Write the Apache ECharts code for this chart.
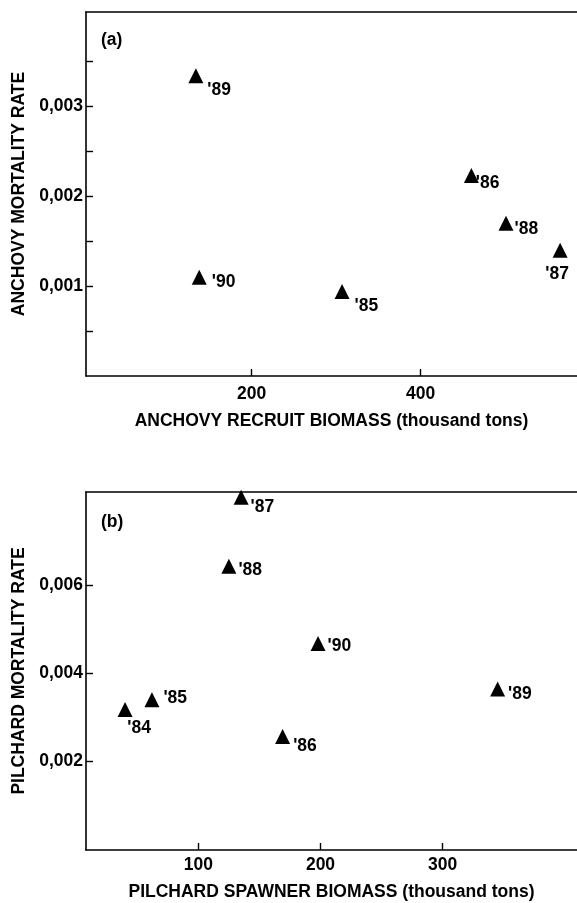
<!DOCTYPE html>
<html>
<head>
<meta charset="utf-8">
<script src="https://cdn.jsdelivr.net/npm/echarts@6/dist/echarts.min.js"></script>
<style>
  html, body { margin: 0; padding: 0; background: #fff; }
  #chart { width: 577px; height: 903px; }
</style>
</head>
<body>
<div id="chart"></div>
<script>
// panel (a): anchovy
const anchovyYears = ["'85", "'86", "'87", "'88", "'89", "'90"]
const anchovyBiomass = [307, 460, 565, 501, 134, 138]
const anchovyMortality = [0.00094, 0.00223, 0.0014, 0.0017, 0.00334, 0.0011]

// panel (b): pilchard
const pilchardYears = ["'84", "'85", "'86", "'87", "'88", "'89", "'90"]
const pilchardBiomass = [40, 62, 169, 135, 125, 345, 198]
const pilchardMortality = [0.00318, 0.0034, 0.00257, 0.00798, 0.00642, 0.00364, 0.00467]

// tick labels
const anchovyXTicks = [200, 400]
const anchovyYTicks = [0.0005, 0.001, 0.0015, 0.002, 0.0025, 0.003, 0.0035]
const anchovyYLabels = [0.001, 0.002, 0.003]
const pilchardXTicks = [100, 200, 300]
const pilchardYTicks = [0.002, 0.004, 0.006]

// where each year label sits next to its triangle
const anchovyLabelPlace = {
  "'85": ['right', [0, 15]],
  "'86": ['right', [-8, 8]],
  "'87": ['bottom', [-3, 2]],
  "'88": ['right', [-4, 6]],
  "'89": ['right', [-1, 14]],
  "'90": ['right', [0, 5]]
}
const pilchardLabelPlace = {
  "'84": ['bottom', [14, -3]],
  "'85": ['right', [-1, -2]],
  "'86": ['right', [-2, 10]],
  "'87": ['right', [-3, 10]],
  "'88": ['right', [-3, 4]],
  "'89": ['right', [-2, 5]],
  "'90": ['right', [-3, 3]]
}

const FONT = "'Liberation Sans', Arial, Helvetica, sans-serif"
const SIZE = 17.5
const black = '#000'

const fmtComma = (v) => v.toFixed(3).replace('.', ',')

const buildPoints = (xs, ys, years, place) =>
  xs.map((x, i) => ({
    value: [x, ys[i]],
    name: years[i],
    label: {
      position: place[years[i]][0],
      offset: place[years[i]][1]
    }
  }))

const xAxisBase = (gridIndex, min, max, ticks, name, nameGap, labelMargin) => ({
  type: 'value',
  gridIndex,
  min,
  max,
  name,
  nameLocation: 'middle',
  nameGap,
  nameTextStyle: { fontFamily: FONT, fontWeight: 'bold', fontSize: SIZE, color: black },
  splitLine: { show: false },
  axisLine: { show: true, lineStyle: { color: black, width: 1.6 } },
  axisTick: { show: true, inside: true, length: 7, customValues: ticks, lineStyle: { color: black, width: 1.4 } },
  axisLabel: { customValues: ticks, margin: labelMargin, fontFamily: FONT, fontWeight: 'bold', fontSize: SIZE, color: black }
})

const topBorder = (gridIndex, min, max) => ({
  type: 'value',
  gridIndex,
  position: 'top',
  min,
  max,
  axisLine: { show: true, lineStyle: { color: black, width: 1.6 } },
  axisTick: { show: false },
  axisLabel: { show: false },
  splitLine: { show: false }
})

const yAxisBase = (gridIndex, max, ticks, labels, name) => ({
  type: 'value',
  gridIndex,
  min: 0,
  max,
  name,
  nameLocation: 'middle',
  nameGap: 58,
  nameTextStyle: { fontFamily: FONT, fontWeight: 'bold', fontSize: SIZE, color: black },
  splitLine: { show: false },
  axisLine: { show: true, lineStyle: { color: black, width: 1.6 } },
  axisTick: { show: true, inside: true, length: 7, customValues: ticks, lineStyle: { color: black, width: 1.4 } },
  axisLabel: {
    customValues: labels,
    margin: 3,
    formatter: fmtComma,
    fontFamily: FONT, fontWeight: 'bold', fontSize: SIZE, color: black
  }
})

const scatter = (axisIndex, data) => ({
  type: 'scatter',
  xAxisIndex: axisIndex,
  yAxisIndex: axisIndex,
  symbol: 'triangle',
  symbolSize: 15,
  itemStyle: { color: black, opacity: 1 },
  label: {
    show: true,
    formatter: (p) => p.name,
    fontFamily: FONT,
    fontWeight: 'bold',
    fontSize: SIZE,
    color: black
  },
  data
})

const chart = echarts.init(document.getElementById('chart'), null, { renderer: 'canvas' })

const option = {
  backgroundColor: '#fff',
  animation: false,
  grid: [
    { left: 86, top: 12, right: 0, height: 364 },
    { left: 86, top: 492, right: 0, height: 358 }
  ],
  xAxis: [
    xAxisBase(0, 4, 585, anchovyXTicks, 'ANCHOVY RECRUIT BIOMASS (thousand tons)', 36, 9),
    xAxisBase(1, 8, 410, pilchardXTicks, 'PILCHARD SPAWNER BIOMASS (thousand tons)', 33, 6),
    topBorder(0, 4, 585),
    topBorder(1, 8, 410)
  ],
  yAxis: [
    yAxisBase(0, 0.00405, anchovyYTicks, anchovyYLabels, 'ANCHOVY MORTALITY RATE'),
    yAxisBase(1, 0.0081, pilchardYTicks, pilchardYTicks, 'PILCHARD MORTALITY RATE')
  ],
  graphic: [
    { type: 'text', left: 101, top: 31, style: { text: '(a)', font: `bold ${SIZE}px ${FONT}`, fill: black } },
    { type: 'text', left: 101, top: 513, style: { text: '(b)', font: `bold ${SIZE}px ${FONT}`, fill: black } }
  ],
  series: [
    scatter(0, buildPoints(anchovyBiomass, anchovyMortality, anchovyYears, anchovyLabelPlace)),
    scatter(1, buildPoints(pilchardBiomass, pilchardMortality, pilchardYears, pilchardLabelPlace))
  ]
}

chart.setOption(option)
</script>
</body>
</html>
